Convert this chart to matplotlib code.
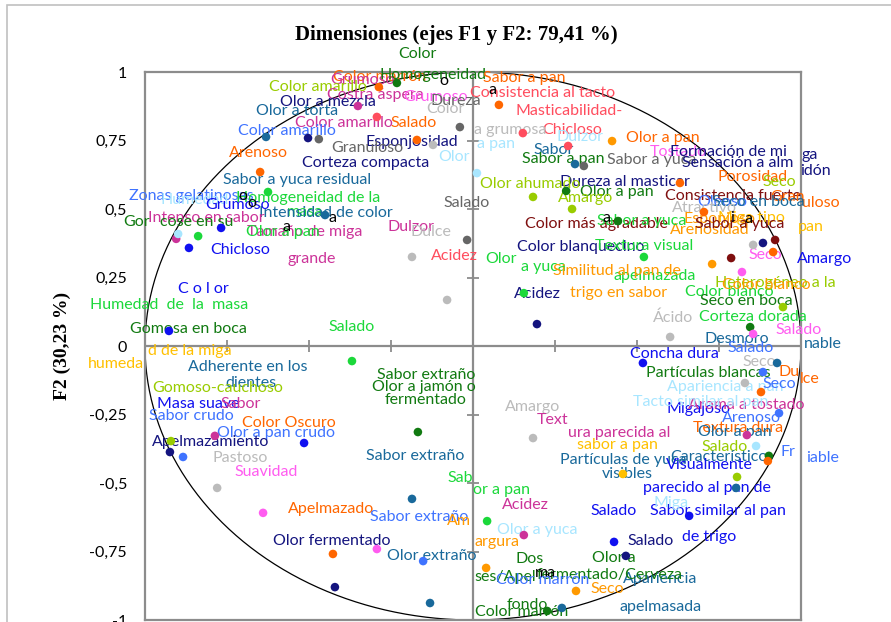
import numpy as np
import matplotlib
matplotlib.use("Agg")
import matplotlib.pyplot as plt
from matplotlib.patches import Rectangle

# colours used by the XLSTAT-style map
PALETTE = {
    "dg": "#117A11",  # dark green
    "or": "#FF6600",  # orange
    "mg": "#CC3399",  # magenta
    "co": "#FF4D5E",  # coral
    "te": "#19699B",  # teal blue
    "nv": "#14147F",  # navy
    "gy": "#666666",  # dark gray
    "lg": "#BBBBBB",  # light gray
    "cy": "#A8E6FF",  # light cyan
    "bg": "#1BD83A",  # bright green
    "yg": "#99CC00",  # yellow green
    "mb": "#3F73FF",  # medium blue
    "bl": "#1010F0",  # blue
    "pk": "#FF5CF0",  # bright pink
    "dr": "#7F0F0F",  # dark red
    "am": "#FF9900",  # amber
    "ye": "#FFC000",  # yellow
    "k": "#000000",
}

# ---- observations (F1, F2) ----
pt_f1 = [-0.232, -0.287, -0.351, -0.293, -0.631, -0.503, -0.470, -0.171, -0.122, -0.040,
         0.012, -0.649, -0.625, 0.079, 0.152, 0.290, 0.424, 0.311, 0.338, 0.183,
         0.284, 0.302, 0.631, 0.704, -0.018, 0.442, 0.521, 0.155, -0.079, 0.195,
         0.729, 0.787, 0.854, 0.884, 0.921, 0.915, 0.820, 0.601, 0.845, 0.854,
         0.945, 0.518, 0.927, 0.884, 0.829, 0.878, 0.933, 0.835, 0.863, 0.902,
         0.899, 0.805, 0.802, 0.457, 0.659, 0.183, 0.043, 0.155, 0.430, 0.466,
         0.040, 0.314, 0.226, 0.271, -0.168, -0.186, -0.427, -0.293, -0.152, -0.131,
         -0.421, -0.640, -0.780, -0.884, -0.921, -0.924, -0.787, -0.515, -0.369, -0.927,
         -0.905, -0.899, -0.866, -0.838, -0.768, -0.186, -0.451]
pt_f2 = [0.960, 0.945, 0.876, 0.836, 0.763, 0.759, 0.755, 0.752, 0.734, 0.799,
         0.631, 0.635, 0.562, 0.880, 0.777, 0.730, 0.748, 0.664, 0.657, 0.544,
         0.566, 0.500, 0.595, 0.489, 0.387, 0.456, 0.325, 0.193, 0.168, 0.080,
         0.299, 0.321, 0.369, 0.376, 0.387, 0.343, 0.270, 0.033, 0.069, 0.044,
         0.142, -0.062, -0.062, -0.095, -0.135, -0.168, -0.245, -0.325, -0.365, -0.401,
         -0.420, -0.478, -0.518, -0.467, -0.620, -0.336, -0.639, -0.690, -0.715, -0.766,
         -0.810, -0.894, -0.967, -0.956, -0.314, -0.558, -0.759, -0.741, -0.785, -0.938,
         -0.880, -0.609, -0.518, -0.405, -0.347, -0.387, -0.328, -0.354, -0.055, 0.055,
         0.391, 0.409, 0.358, 0.401, 0.431, 0.325, 0.478]
pt_col = ["dg", "or", "mg", "co", "te", "nv", "gy", "or", "lg", "gy",
          "cy", "or", "bg", "or", "co", "co", "am", "te", "gy", "yg",
          "dg", "yg", "or", "or", "gy", "dg", "bg", "bg", "lg", "nv",
          "am", "dr", "lg", "nv", "dr", "or", "pk", "lg", "dg", "pk",
          "yg", "bl", "te", "mb", "lg", "or", "mb", "mg", "cy", "dg",
          "or", "yg", "te", "ye", "bl", "lg", "bg", "mg", "bl", "nv",
          "am", "am", "dg", "te", "dg", "te", "or", "pk", "mb", "te",
          "nv", "pk", "lg", "mb", "yg", "nv", "mg", "bl", "bg", "bl",
          "mg", "cy", "bl", "bg", "bl", "lg", "te"]

# ---- labels (text, F1 of left edge, F2 of centre, colour) ----
lab_text = [
    "Color", "Color marrón", "Grumoso", "Homogeneidad", "o", "Color amarillo", "Costra áspera",
    "Grumoso", "Dureza", "Color", "Olor a mezcla", "Olor a torta", "Color amarillo", "Salado",
    "Color amarillo", "Esponjosidad", "Granuloso", "Arenoso", "Corteza compacta",
    "Sabor a yuca residual", "Zonas gelatinosas", "Humedad", "Grumoso", "Homogeneidad de la",
    "masa", "Intensidad de color", "Intenso en sabor", "Gor", "cose en su", "Tamaño de miga",
    "Olor a pan", "grande", "Chicloso", "Dulzor", "Dulce", "Acidez", "Humedad  de  la  masa",
    "C o l or", "Gomosa en boca", "Salado", "humeda", "d de la miga", "Adherente en los",
    "dientes", "Gomoso-cauchoso", "Masa suave", "Sabor", "Sabor crudo", "Color Oscuro",
    "Olor a pan crudo", "Apelmazamiento", "Pastoso", "Suavidad", "Apelmazado", "Sabor extraño",
    "Olor fermentado", "Olor extraño", "Sabor extraño", "Sabor extraño", "Olor a jamón o",
    "fermentado", "Sab", "or a pan", "Amargo", "Text", "ura parecida al", "sabor a pan",
    "Partículas de yuca", "visibles", "Migajoso", "Aroma a tostado", "Apariencia a pan",
    "Tacto similar al pan", "Arenoso", "Textura dura", "Olor a pan", "Salado",
    "Característico", "Visualmente", "Fr", "iable", "parecido al pan de",
    "Sabor similar al pan", "de trigo", "Miga", "Salado", "Salado", "Olor a", "Apariencia",
    "apelmasada", "fermentado/Cerveza", "ses/Apel", "Dos", "ma", "Color marrón", "Seco",
    "fondo", "Color marrón", "Acidez", "Olor a yuca", "Am", "argura",
    "Sabor a pan", "Consistencia al tacto", "a", "Masticabilidad-", "Chicloso", "a grumosa",
    "Dulzor", "Olor a pan", "a pan", "Olor", "Sabor", "Sabor a pan", "Sabor a yuca", "Tostado",
    "Formación de mi", "ga", "Sensación a alm", "idón", "Porosidad", "Seco",
    "Dureza al masticar", "Olor ahumado", "Olor a pan", "Amargo", "Consistencia fuerte",
    "uloso", "Gran", "Oleoso", "Seco en boca", "Atractivo", "Miga tipo", "pan", "Esponjoso",
    "Arenosidad", "Color más agradable", "Sabor a yuca", "Sabor a yuca", "a", "i", "a",
    "Color blanquecino", "Textura visual", "apelmazada", "Olor", "a yuca",
    "Similitud al pan de", "trigo en sabor", "Acidez", "Color blanco", "Seco en boca",
    "Heterogéneo a la", "Color blanco", "Corteza dorada", "Ácido", "Salado", "Desmoro",
    "nable", "Salado", "Amargo", "Seco", "Concha dura", "Partículas blancas", "Seco", "Du",
    "lce", "Seco", "Salado", "o", "o", "a", "a",
]
lab_f1 = [
    -0.229, -0.427, -0.436, -0.284, -0.101, -0.622, -0.445,
    -0.213, -0.131, -0.143, -0.588, -0.662, -0.543, -0.253,
    -0.716, -0.329, -0.433, -0.744, -0.521,
    -0.762, -1.049, -0.954, -0.817, -0.723,
    -0.567, -0.652, -0.991, -1.067, -0.954, -0.689,
    -0.692, -0.567, -0.802, -0.262, -0.192, -0.128, -1.168,
    -0.899, -1.046, -0.442, -1.174, -0.991, -0.869,
    -0.756, -0.979, -0.963, -0.771, -0.988, -0.704,
    -0.780, -0.979, -0.793, -0.726, -0.564, -0.314,
    -0.610, -0.262, -0.326, -0.293, -0.308,
    -0.268, -0.079, 0.000, 0.098, 0.195, 0.290, 0.317,
    0.265, 0.393, 0.591, 0.655, 0.591,
    0.488, 0.759, 0.671, 0.686, 0.698,
    0.601, 0.588, 0.936, 1.015, 0.518,
    0.540, 0.637, 0.549, 0.357, 0.470, 0.363, 0.457,
    0.448, 0.195, 0.003, 0.131, 0.189, 0.070, 0.357,
    0.104, 0.006, 0.088, 0.073, -0.079, 0.006,
    0.030, -0.009, 0.046, 0.131, 0.210, 0.003,
    0.256, 0.466, 0.012, -0.107, 0.183, 0.149, 0.409, 0.540,
    0.601, 1.003, 0.637, 0.997, 0.744, 0.884,
    0.265, 0.021, 0.326, 0.259, 0.585,
    1.003, 0.905, 0.683, 0.729, 0.607, 0.747, 0.991, 0.643,
    0.601, 0.159, 0.677, 0.378, 0.396, 0.784, 0.829,
    0.134, 0.372, 0.427, 0.037, 0.146,
    0.244, 0.296, 0.125, 0.646, 0.692,
    0.738, 0.759, 0.689, 0.549, 0.921, 0.707,
    1.009, 0.777, 0.988, 0.841, 0.479, 0.527, 0.823, 0.930,
    0.997, 0.884, -0.091, -0.716, -0.689, -0.582, -0.442,
]
lab_f2 = [
    1.066, 0.982, 0.971, 0.989, 0.967, 0.945, 0.916,
    0.909, 0.894, 0.865, 0.891, 0.858, 0.814, 0.814,
    0.785, 0.745, 0.723, 0.704, 0.668,
    0.606, 0.547, 0.533, 0.515, 0.540,
    0.489, 0.485, 0.467, 0.453, 0.453, 0.416,
    0.416, 0.318, 0.350, 0.434, 0.416, 0.328, 0.150,
    0.208, 0.062, 0.069, -0.066, -0.018, -0.077,
    -0.135, -0.153, -0.212, -0.212, -0.255, -0.281,
    -0.318, -0.350, -0.409, -0.460, -0.595, -0.624,
    -0.712, -0.766, -0.401, -0.106, -0.150,
    -0.197, -0.482, -0.526, -0.223, -0.270, -0.318, -0.361,
    -0.416, -0.467, -0.230, -0.215, -0.150,
    -0.204, -0.263, -0.299, -0.314, -0.369,
    -0.405, -0.434, -0.387, -0.409, -0.518,
    -0.602, -0.697, -0.573, -0.602, -0.712, -0.774, -0.850,
    -0.953, -0.836, -0.843, -0.777, -0.828, -0.854, -0.887,
    -0.945, -0.971, -0.580, -0.672, -0.639, -0.715,
    0.978, 0.923, 0.934, 0.858, 0.788, 0.788,
    0.763, 0.759, 0.737, 0.690, 0.715, 0.682, 0.679, 0.708,
    0.708, 0.697, 0.668, 0.639, 0.617, 0.599,
    0.599, 0.591, 0.562, 0.540, 0.547,
    0.522, 0.544, 0.526, 0.526, 0.504, 0.467, 0.434, 0.464,
    0.423, 0.445, 0.445, 0.456, 0.467, 0.467, 0.464,
    0.361, 0.365, 0.255, 0.318, 0.288,
    0.274, 0.193, 0.190, 0.197, 0.164,
    0.230, 0.223, 0.106, 0.102, 0.058, 0.026,
    0.007, -0.007, 0.318, 0.332, -0.029, -0.099, -0.058, -0.095,
    -0.120, -0.139, 0.522, 0.547, 0.522, 0.434, 0.467,
]
lab_col = [
    "dg", "or", "mg", "dg", "k", "yg", "mg",
    "pk", "gy", "lg", "nv", "te", "mg", "or",
    "mb", "nv", "gy", "or", "nv",
    "te", "mb", "cy", "bl", "bg",
    "bg", "te", "mg", "dg", "dg", "mg",
    "bg", "mg", "bl", "mg", "lg", "co", "bg",
    "bl", "dg", "bg", "ye", "ye", "te",
    "te", "yg", "bl", "mg", "mb", "or",
    "mb", "nv", "lg", "pk", "or", "mb",
    "nv", "te", "te", "dg", "dg",
    "dg", "bg", "bg", "lg", "mg", "mg", "ye",
    "te", "te", "bl", "mg", "cy",
    "cy", "mb", "or", "te", "yg",
    "te", "bl", "mb", "mb", "bl",
    "bl", "bl", "cy", "bl", "nv", "dg", "te",
    "te", "dg", "dg", "dg", "k", "mb", "am",
    "dg", "dg", "mg", "cy", "am", "am",
    "or", "co", "k", "co", "co", "lg",
    "cy", "or", "cy", "cy", "te", "dg", "gy", "pk",
    "nv", "nv", "nv", "nv", "or", "yg",
    "nv", "yg", "dg", "yg", "dr",
    "or", "or", "mb", "te", "lg", "ye", "ye", "am",
    "am", "dr", "dr", "bg", "k", "k", "k",
    "nv", "bg", "bg", "bg", "bg",
    "am", "am", "nv", "bg", "dg",
    "yg", "am", "bg", "lg", "pk", "te",
    "te", "mb", "bl", "pk", "bl", "dg", "lg", "or",
    "or", "mb", "gy", "k", "k", "k", "k",
]

y_ticks = [-1, -0.75, -0.5, -0.25, 0, 0.25, 0.5, 0.75, 1]
y_tick_labels = ["-1", "-0,75", "-0,5", "-0,25", "0", "0,25", "0,5", "0,75", "1"]
inner_ticks = [-0.75, -0.5, -0.25, 0.25, 0.5, 0.75]

GRID = "#8C8C8C"
LABEL_FONT = "Lato"

fig = plt.figure(figsize=(8.91, 6.22), dpi=100)
ax = fig.add_axes([145 / 891, 2 / 622, 656 / 891, 548 / 622])
ax.set_xlim(-1, 1)
ax.set_ylim(-1, 1)

# outer chart-area border
fig.patches.append(Rectangle((7 / 891, -0.5), 2.0, 1.5 - 5 / 622, transform=fig.transFigure,
                             fill=False, ec="#C0C0C0", lw=1.2))

for s in ax.spines.values():
    s.set_color(GRID)
    s.set_linewidth(1.6)

ax.axhline(0, color=GRID, lw=1.6, zorder=1)
ax.axvline(0, color=GRID, lw=1.6, zorder=1)
ax.plot(inner_ticks, [0] * len(inner_ticks), ls="none", marker="|", ms=8, mew=1.3, color=GRID, zorder=1)
ax.plot([0] * len(inner_ticks), inner_ticks, ls="none", marker="_", ms=8, mew=1.3, color=GRID, zorder=1)

t = np.linspace(0, 2 * np.pi, 400)
ax.plot(np.cos(t), np.sin(t), color="black", lw=0.9, zorder=2)

ax.set_xticks([])
ax.set_yticks(y_ticks)
ax.set_yticklabels(y_tick_labels, fontfamily=LABEL_FONT, fontsize=11.5)
ax.tick_params(axis="y", length=0, pad=13)

for txt, x, y, c in zip(lab_text, lab_f1, lab_f2, lab_col):
    ax.text(x, y, txt, color=PALETTE[c], fontsize=11.5, fontfamily=LABEL_FONT,
            ha="left", va="center", zorder=3, clip_on=False)

ax.scatter(pt_f1, pt_f2, s=38, c=[PALETTE[c] for c in pt_col], linewidths=0, zorder=4, clip_on=False)

ax.set_ylabel("F2 (30,23 %)", fontfamily="Liberation Serif", fontweight="bold", fontsize=14)
ax.yaxis.set_label_coords(-0.113, 0.5)

fig.text(456 / 891, 1 - 35 / 622, "Dimensiones (ejes F1 y F2: 79,41 %)", ha="center", va="center",
         fontfamily="Liberation Serif", fontweight="bold", fontsize=15)

fig.savefig("out.png", dpi=100)
